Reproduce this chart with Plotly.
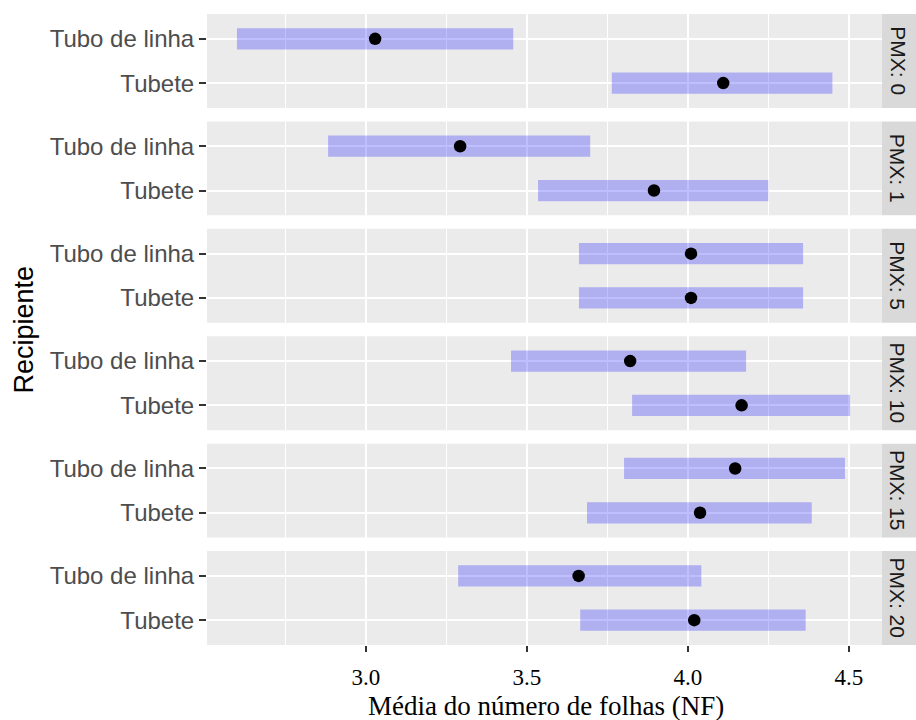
import plotly.graph_objects as go
from plotly.subplots import make_subplots

# ---- data ----
facets = ["PMX: 0", "PMX: 1", "PMX: 5", "PMX: 10", "PMX: 15", "PMX: 20"]
categories = ["Tubo de linha", "Tubete"]

mean_tubo = [3.029, 3.293, 4.010, 3.821, 4.147, 3.661]
lower_tubo = [2.600, 2.883, 3.662, 3.451, 3.802, 3.287]
upper_tubo = [3.458, 3.697, 4.358, 4.181, 4.488, 4.042]

mean_tubete = [4.110, 3.895, 4.010, 4.167, 4.038, 4.020]
lower_tubete = [3.764, 3.535, 3.662, 3.827, 3.687, 3.666]
upper_tubete = [4.449, 4.250, 4.358, 4.504, 4.385, 4.366]

x_ticks = [3.0, 3.5, 4.0, 4.5]
x_ticktext = ["3.0", "3.5", "4.0", "4.5"]
x_minor = [2.75, 3.25, 3.75, 4.25]

x_title = "Média do número de folhas (NF)"
y_title = "Recipiente"

# ---- figure ----
n = len(facets)
W, H = 916, 720
ml, mr, mt, mb = 207, 34, 14, 75
plot_w = W - ml - mr
plot_h = H - mt - mb
gap_px = 13.5
vs = gap_px / plot_h

fig = make_subplots(rows=n, cols=1, shared_xaxes=False, vertical_spacing=vs)

bar_color = "rgba(0,0,255,0.25)"
for i in range(n):
    r = i + 1
    lows = [lower_tubo[i], lower_tubete[i]]
    ups = [upper_tubo[i], upper_tubete[i]]
    means = [mean_tubo[i], mean_tubete[i]]
    fig.add_trace(go.Bar(
        y=categories, x=[u - l for u, l in zip(ups, lows)], base=lows,
        orientation="h", width=0.48,
        marker=dict(color=bar_color, line=dict(width=0)),
        showlegend=False, hoverinfo="skip"), row=r, col=1)
    fig.add_trace(go.Scatter(
        y=categories, x=means, mode="markers",
        marker=dict(color="black", size=12.5),
        showlegend=False), row=r, col=1)

x_range = [2.507, 4.603]
for i in range(n):
    r = i + 1
    last = (r == n)
    fig.update_xaxes(
        row=r, col=1, range=x_range, type="linear",
        tickmode="array", tickvals=x_ticks, ticktext=x_ticktext,
        showticklabels=last,
        ticks="outside" if last else "", ticklen=6, tickwidth=2, tickcolor="#333333",
        ticklabelstandoff=5,
        tickfont=dict(family="Liberation Serif", size=23, color="black"),
        showgrid=True, gridcolor="white", gridwidth=2,
        minor=dict(tickvals=x_minor, showgrid=True, gridcolor="white", gridwidth=1, ticks=""),
        zeroline=False, showline=False, fixedrange=True)
    fig.update_yaxes(
        row=r, col=1, type="category", categoryorder="array", categoryarray=categories,
        range=[1.56, -0.56],
        ticks="outside", ticklen=7, tickwidth=2, tickcolor="#333333",
        tickfont=dict(family="Liberation Sans", size=24, color="#4D4D4D"),
        showgrid=True, gridcolor="white", gridwidth=2,
        zeroline=False, showline=False, fixedrange=True)

# panel backgrounds and strips
shapes = []
annotations = []
strip_x1 = (W - ml) / plot_w
for i in range(n):
    yref = "y domain" if i == 0 else f"y{i+1} domain"
    xref = "x domain" if i == 0 else f"x{i+1} domain"
    shapes.append(dict(type="rect", xref=xref, yref=yref, x0=0, x1=1, y0=0, y1=1,
                       fillcolor="#EBEBEB", line=dict(width=0), layer="below"))
    shapes.append(dict(type="rect", xref=xref, yref=yref, x0=1, x1=strip_x1, y0=0, y1=1,
                       fillcolor="#D9D9D9", line=dict(width=0), layer="below"))
    annotations.append(dict(xref=xref, yref=yref, x=(1 + strip_x1) / 2 - 0.002, y=0.5,
                            text=facets[i], showarrow=False, textangle=90,
                            xanchor="center", yanchor="middle",
                            font=dict(family="Liberation Sans", size=21, color="#1A1A1A")))

annotations.append(dict(xref="paper", yref="paper", x=(23 - ml) / plot_w, y=0.5,
                        text=y_title, showarrow=False, textangle=-90,
                        xanchor="center", yanchor="middle",
                        font=dict(family="Liberation Sans", size=27, color="black")))
annotations.append(dict(xref="paper", yref="paper", x=(546 - ml) / plot_w,
                        y=-(706 - (H - mb)) / plot_h,
                        text=x_title, showarrow=False,
                        xanchor="center", yanchor="middle",
                        font=dict(family="Liberation Serif", size=27, color="black")))

fig.update_layout(
    width=W, height=H,
    margin=dict(l=ml, r=mr, t=mt, b=mb, pad=0),
    paper_bgcolor="white", plot_bgcolor="rgba(0,0,0,0)",
    shapes=shapes, annotations=annotations,
    barmode="overlay", showlegend=False,
)

fig.write_html(
    "out.html",
    config={"displayModeBar": False},
    post_script="document.body.style.margin='0';document.body.style.padding='0';document.body.style.overflow='hidden';",
)
